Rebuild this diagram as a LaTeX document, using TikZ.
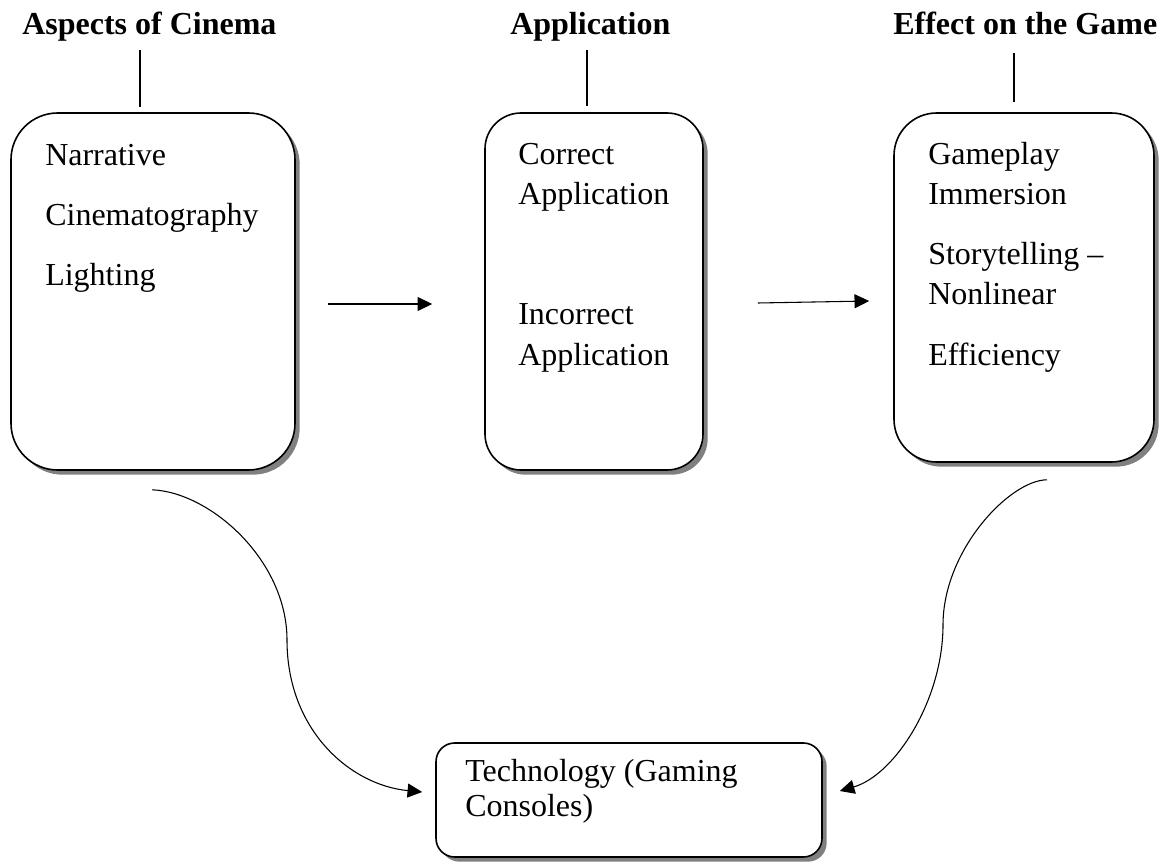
\documentclass[tikz,border=0pt]{standalone}
\usepackage{fontspec}
\setmainfont{Liberation Serif}
\usetikzlibrary{arrows.meta,shadows,calc}
\tikzset{
  box/.style={draw=black, line width=1.2pt, fill=white, inner sep=0pt,
    drop shadow={shadow xshift=3.5pt, shadow yshift=-3.5pt, fill=black!50, opacity=1}},
  txt/.style={anchor=base west, inner sep=0pt, font=\fontsize{24}{30}\selectfont},
  ttl/.style={anchor=base west, inner sep=0pt, font=\fontsize{24}{30}\selectfont\bfseries},
  thin/.style={line width=0.8pt},
  arr/.style={line width=0.8pt, -{Triangle[length=11pt,width=10.5pt]}}
}
\begin{document}
\begin{tikzpicture}[x=0.75pt,y=-0.75pt]
\useasboundingbox (0,0) rectangle (1168,863);
% titles
\node[ttl] (t1) at (22,35) {Aspects of Cinema};
\node[ttl] (t2) at (510,35) {Application};
\node[ttl] (t3) at (893,35) {Effect on the Game};
\coordinate (l1a) at (140,50); \coordinate (l1b) at (140,107);
\coordinate (l2a) at (587,50); \coordinate (l2b) at (587,106);
\coordinate (l3a) at (1014,53); \coordinate (l3b) at (1014,102);
\draw[thin] (l1a) -- (l1b);
\draw[thin] (l2a) -- (l2b);
\draw[thin] (l3a) -- (l3b);
% boxes
\node[box, rounded corners=35pt, minimum width=213pt, minimum height=267.75pt] (box1) at (153,291.5) {};
\node[box, rounded corners=27pt, minimum width=163.5pt, minimum height=267.75pt] (box2) at (594,291.5) {};
\node[box, rounded corners=32pt, minimum width=195pt, minimum height=261.75pt] (box3) at (1024,287.5) {};
\node[box, rounded corners=14pt, minimum width=289.5pt, minimum height=85.5pt] (box4) at (629,800) {};
% box texts
\node[txt] (n1) at (45,166) {Narrative};
\node[txt] (n2) at (45,226) {Cinematography};
\node[txt] (n3) at (45,286) {Lighting};
\node[txt] (a1) at (518,165) {Correct};
\node[txt] (a2) at (518,205) {Application};
\node[txt] (a3) at (518,325) {Incorrect};
\node[txt] (a4) at (518,365) {Application};
\node[txt] (e1) at (928,165) {Gameplay};
\node[txt] (e2) at (928,205) {Immersion};
\node[txt] (e3) at (928,265) {Storytelling –};
\node[txt] (e4) at (928,305) {Nonlinear};
\node[txt] (e5) at (928,365) {Efficiency};
\node[txt] (g1) at (465,781) {Technology (Gaming};
\node[txt] (g2) at (465,816) {Consoles)};
% arrows
\draw[arr] ($(box1.east)+(32,12.5)$) -- ($(box2.west)+(-52,12.5)$);
\draw[arr] ($(box2.east)+(54,11.5)$) -- ($(box3.west)+(-24,13.5)$);
\draw[arr] ($(box1.south)+(-1,19)$) .. controls (210,492) and (287,560) .. (287,640)
  .. controls (287,730) and (350,785) .. ($(box4.west)+(-13,-8)$);
\draw[arr] ($(box3.south)+(23,17)$) .. controls (1010,480) and (943,550) .. (943,625)
  .. controls (943,700) and (895,775) .. ($(box4.east)+(17,-9)$);
\end{tikzpicture}
\end{document}
